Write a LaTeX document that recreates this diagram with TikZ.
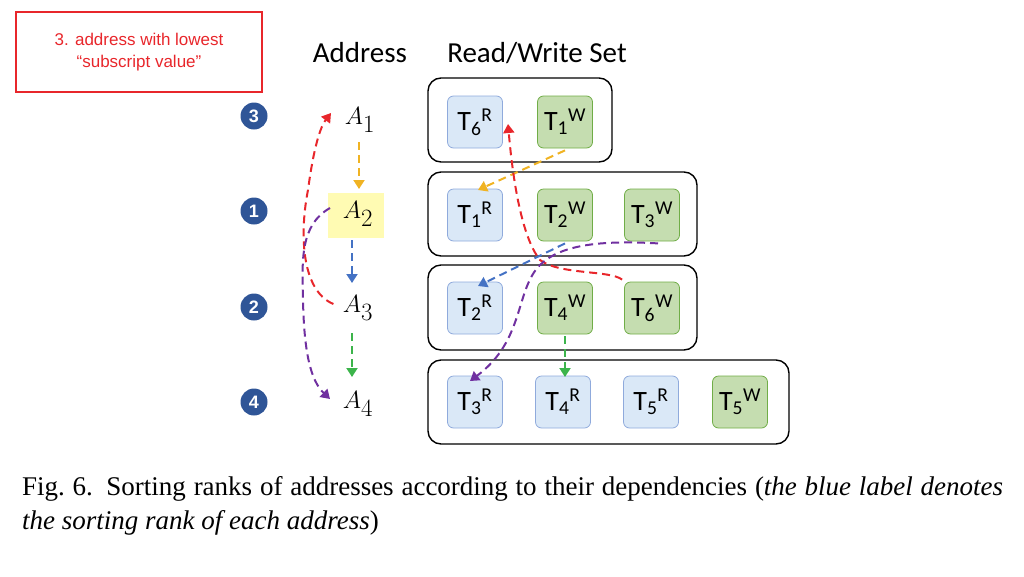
\documentclass[tikz,border=0pt]{standalone}
\usepackage{fontspec}
\setmainfont{Liberation Serif}
\newfontfamily\calfnt{Carlito}
\newfontfamily\ars{Liberation Sans}
\usetikzlibrary{arrows.meta}
\definecolor{cred}{HTML}{E8262B}
\definecolor{cyel}{HTML}{F0B323}
\definecolor{cblu}{HTML}{4472C4}
\definecolor{cgrn}{HTML}{3CB44B}
\definecolor{cpur}{HTML}{7030A0}
\definecolor{rfill}{HTML}{DAE8F7}
\definecolor{rline}{HTML}{8FAADC}
\definecolor{wfill}{HTML}{C5DDB0}
\definecolor{wline}{HTML}{70AD47}
\definecolor{rank}{HTML}{2F5597}
\newcommand{\tx}[2]{T\textsubscript{#1}\textsuperscript{#2}}
\begin{document}
\begin{tikzpicture}[x=1pt,y=-1pt,
 rd/.style={draw=rline,fill=rfill,rounded corners=6pt,minimum width=55pt,minimum height=52pt,line width=0.8pt,font=\calfnt\fontsize{28}{28}\selectfont,inner sep=0pt},
 wr/.style={rd,draw=wline,fill=wfill},
 grp/.style={draw=black,line width=1.4pt,rounded corners=13pt},
 rk/.style={circle,fill=rank,text=white,minimum size=27pt,inner sep=0pt,font=\ars\bfseries\fontsize{18}{18}\selectfont},
 ad/.style={font=\fontsize{34}{34}\selectfont},
 da/.style={dashed,dash pattern=on 8pt off 5pt,line width=2pt,-{Triangle[length=9pt,width=11pt]}}]
\useasboundingbox (0,0) rectangle (1024,576);
\node[draw=cred,line width=1.5pt,minimum width=246pt,minimum height=80pt,text=cred,align=center,font=\ars\fontsize{17}{22}\selectfont] (note) at (139,52) {3. address with lowest\\“subscript value”};
\node[font=\calfnt\fontsize{29}{29}\selectfont] (haddr) at (360,53) {Address};
\node[font=\calfnt\fontsize{29}{29}\selectfont] (hrw) at (537,53) {Read/Write Set};
\node[rk] (r1) at (254,116) {3};
\node[rk] (r2) at (254,211) {1};
\node[rk] (r3) at (254,307) {2};
\node[rk] (r4) at (254,402) {4};
\node[fill=yellow!30,minimum width=56pt,minimum height=45pt] (hl) at (356,215) {};
\node[ad] (a1) at (360,120) {$A_1$};
\node[ad] (a2) at (358,214) {$A_2$};
\node[ad] (a3) at (358,308) {$A_3$};
\node[ad] (a4) at (358,404) {$A_4$};
\draw[grp] (428,78) rectangle (612,162);
\draw[grp] (428,172) rectangle (697,256);
\draw[grp] (428,265) rectangle (697,350);
\draw[grp] (428,360) rectangle (789,444);
\node[rd] (t6r) at (475,122) {\tx{6}{R}};
\node[wr] (t1w) at (565,122) {\tx{1}{W}};
\node[rd] (t1r) at (475,215) {\tx{1}{R}};
\node[wr] (t2w) at (565,215) {\tx{2}{W}};
\node[wr] (t3w) at (652,215) {\tx{3}{W}};
\node[rd] (t2r) at (475,308) {\tx{2}{R}};
\node[wr] (t4w) at (565,308) {\tx{4}{W}};
\node[wr] (t6w) at (652,308) {\tx{6}{W}};
\node[rd] (t3r) at (475,402) {\tx{3}{R}};
\node[rd] (t4r) at (563,402) {\tx{4}{R}};
\node[rd] (t5r) at (651,402) {\tx{5}{R}};
\node[wr] (t5w) at (740,402) {\tx{5}{W}};
% address chain
\draw[da,cyel] (359,142) coordinate (y1) -- (359,189) coordinate (y2);
\draw[da,cblu] (352,240) coordinate (b1) -- (352,283) coordinate (b2);
\draw[da,cgrn] (352,333) coordinate (g1) -- (352,377) coordinate (g2);
\draw[da,cred] (a3.west) ++(-6,-4) coordinate (rs) .. controls (300,290) and (300,230) .. (308,190) .. controls (312,160) and (318,130) .. (331,113) coordinate (re);
\draw[da,cpur] (330,208) coordinate (ps) .. controls (300,225) and (302,260) .. (303,300) .. controls (304,350) and (310,380) .. (330,399) coordinate (pe);
% set arrows
\draw[da,cyel] (t1w.south) ++(0,2) coordinate (ys) -- (478,190) coordinate (ye);
\draw[da,cblu] (t2w.south) ++(0,2) coordinate (bs) -- (478,286) coordinate (be);
\draw[da,cgrn] (t4w.south) ++(0,2) coordinate (gs) -- (565,377) coordinate (ge);
\draw[da,cred] (t6w.north west) ++(-2,-2) coordinate (r2s) .. controls (610,270) and (560,275) .. (540,260) .. controls (520,235) and (512,170) .. (508,124) coordinate (r2e);
\draw[da,cpur] (t3w.south) ++(6,2) coordinate (p2s) .. controls (600,240) and (560,245) .. (540,265) .. controls (515,290) and (525,340) .. (470,381) coordinate (p2e);
\node[anchor=north west,inner sep=0pt,text width=981pt,align=justify,font=\fontsize{27}{34}\selectfont] (cap) at (22,476) {Fig.~6.\enspace Sorting ranks of addresses according to their dependencies (\textit{the blue label denotes the sorting rank of each address})};
\end{tikzpicture}
\end{document}
